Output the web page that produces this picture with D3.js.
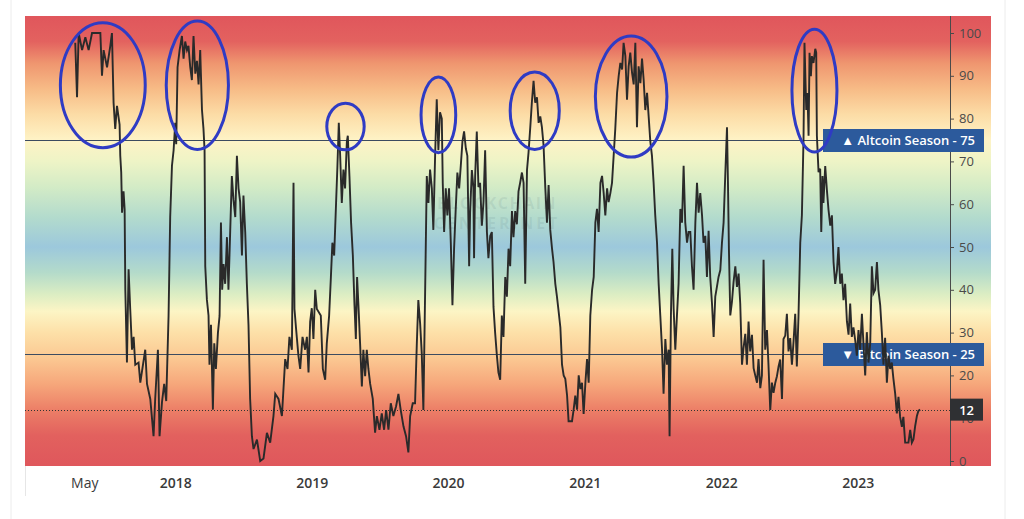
<!DOCTYPE html>
<html>
<head>
<meta charset="utf-8">
<script src="https://cdn.jsdelivr.net/npm/d3@7"></script>
<style>
  body { margin: 0; background: #fff; }
  svg { display: block; }
</style>
</head>
<body>
<svg id="chart" width="1024" height="519"></svg>
<script>
// dates are decimal years, values are the altcoin season index (0-100)
var dates = [
  2017.267, 2017.280, 2017.292, 2017.317, 2017.341, 2017.365, 2017.390, 2017.451, 2017.463, 2017.475,
  2017.500, 2017.524, 2017.536, 2017.548, 2017.560, 2017.573, 2017.592, 2017.597, 2017.604, 2017.610,
  2017.621, 2017.629, 2017.634, 2017.646, 2017.658, 2017.670, 2017.683, 2017.695, 2017.707, 2017.731,
  2017.744, 2017.780, 2017.793, 2017.817, 2017.841, 2017.853, 2017.873, 2017.885, 2017.903, 2017.919,
  2017.934, 2017.951, 2017.963, 2017.976, 2017.988, 2018.000, 2018.007, 2018.017, 2018.032, 2018.049,
  2018.061, 2018.073, 2018.086, 2018.097, 2018.110, 2018.122, 2018.134, 2018.147, 2018.159, 2018.171,
  2018.183, 2018.196, 2018.207, 2018.215, 2018.220, 2018.232, 2018.244, 2018.251, 2018.262, 2018.276,
  2018.286, 2018.298, 2018.313, 2018.325, 2018.335, 2018.344, 2018.354, 2018.366, 2018.379, 2018.390,
  2018.403, 2018.415, 2018.427, 2018.440, 2018.452, 2018.464, 2018.476, 2018.489, 2018.500, 2018.513,
  2018.525, 2018.537, 2018.549, 2018.562, 2018.574, 2018.599, 2018.623, 2018.647, 2018.672, 2018.696,
  2018.720, 2018.733, 2018.757, 2018.782, 2018.806, 2018.823, 2018.837, 2018.855, 2018.867, 2018.874,
  2018.886, 2018.903, 2018.916, 2018.933, 2018.952, 2018.965, 2018.977, 2018.989, 2019.001, 2019.013,
  2019.026, 2019.038, 2019.067, 2019.082, 2019.099, 2019.111, 2019.128, 2019.141, 2019.152, 2019.165,
  2019.179, 2019.189, 2019.199, 2019.209, 2019.221, 2019.233, 2019.245, 2019.258, 2019.265, 2019.277,
  2019.289, 2019.302, 2019.314, 2019.324, 2019.333, 2019.343, 2019.355, 2019.368, 2019.379, 2019.392,
  2019.404, 2019.416, 2019.429, 2019.448, 2019.465, 2019.478, 2019.497, 2019.514, 2019.531, 2019.546,
  2019.563, 2019.580, 2019.599, 2019.619, 2019.636, 2019.653, 2019.673, 2019.692, 2019.709, 2019.722,
  2019.741, 2019.758, 2019.771, 2019.782, 2019.795, 2019.807, 2019.819, 2019.832, 2019.844, 2019.856,
  2019.868, 2019.881, 2019.892, 2019.905, 2019.917, 2019.929, 2019.941, 2019.954, 2019.961, 2019.971,
  2019.983, 2019.995, 2020.007, 2020.020, 2020.032, 2020.044, 2020.056, 2020.068, 2020.081, 2020.093,
  2020.105, 2020.117, 2020.130, 2020.141, 2020.154, 2020.161, 2020.174, 2020.185, 2020.190, 2020.198,
  2020.210, 2020.222, 2020.234, 2020.247, 2020.259, 2020.271, 2020.284, 2020.295, 2020.308, 2020.320,
  2020.332, 2020.344, 2020.357, 2020.368, 2020.381, 2020.393, 2020.405, 2020.418, 2020.430, 2020.442,
  2020.454, 2020.467, 2020.478, 2020.491, 2020.503, 2020.515, 2020.527, 2020.540, 2020.552, 2020.564,
  2020.577, 2020.588, 2020.601, 2020.613, 2020.625, 2020.637, 2020.650, 2020.662, 2020.674, 2020.686,
  2020.698, 2020.711, 2020.723, 2020.735, 2020.747, 2020.760, 2020.771, 2020.784, 2020.796, 2020.808,
  2020.821, 2020.833, 2020.845, 2020.857, 2020.870, 2020.881, 2020.906, 2020.918, 2020.930, 2020.943,
  2020.955, 2020.967, 2020.979, 2020.991, 2021.004, 2021.016, 2021.028, 2021.040, 2021.053, 2021.065,
  2021.077, 2021.089, 2021.101, 2021.114, 2021.126, 2021.138, 2021.150, 2021.163, 2021.174, 2021.187,
  2021.199, 2021.211, 2021.223, 2021.236, 2021.248, 2021.260, 2021.273, 2021.284, 2021.297, 2021.309,
  2021.321, 2021.333, 2021.346, 2021.358, 2021.370, 2021.382, 2021.394, 2021.407, 2021.419, 2021.431,
  2021.443, 2021.456, 2021.467, 2021.480, 2021.492, 2021.504, 2021.516, 2021.529, 2021.541, 2021.553,
  2021.566, 2021.577, 2021.590, 2021.602, 2021.614, 2021.621, 2021.631, 2021.641, 2021.651, 2021.663,
  2021.675, 2021.687, 2021.700, 2021.712, 2021.724, 2021.736, 2021.749, 2021.760, 2021.773, 2021.785,
  2021.797, 2021.810, 2021.822, 2021.834, 2021.846, 2021.859, 2021.870, 2021.883, 2021.895, 2021.907,
  2021.919, 2021.932, 2021.944, 2021.956, 2021.968, 2021.980, 2021.993, 2022.005, 2022.017, 2022.029,
  2022.042, 2022.049, 2022.056, 2022.066, 2022.078, 2022.090, 2022.103, 2022.115, 2022.127, 2022.139,
  2022.152, 2022.163, 2022.176, 2022.188, 2022.200, 2022.212, 2022.225, 2022.237, 2022.249, 2022.262,
  2022.273, 2022.286, 2022.298, 2022.310, 2022.322, 2022.335, 2022.346, 2022.359, 2022.371, 2022.383,
  2022.396, 2022.408, 2022.420, 2022.432, 2022.445, 2022.456, 2022.469, 2022.481, 2022.493, 2022.505,
  2022.518, 2022.530, 2022.542, 2022.554, 2022.566, 2022.579, 2022.591, 2022.603, 2022.610, 2022.623,
  2022.632, 2022.640, 2022.647, 2022.657, 2022.664, 2022.676, 2022.689, 2022.696, 2022.701, 2022.713,
  2022.725, 2022.733, 2022.742, 2022.749, 2022.762, 2022.774, 2022.786, 2022.799, 2022.811, 2022.823,
  2022.835, 2022.848, 2022.859, 2022.872, 2022.884, 2022.896, 2022.908, 2022.921, 2022.933, 2022.945,
  2022.957, 2022.969, 2022.982, 2022.994, 2023.006, 2023.018, 2023.031, 2023.042, 2023.055, 2023.067,
  2023.079, 2023.092, 2023.104, 2023.116, 2023.128, 2023.141, 2023.152, 2023.165, 2023.177, 2023.189,
  2023.201, 2023.214, 2023.226, 2023.238, 2023.250, 2023.262, 2023.275, 2023.287, 2023.299, 2023.311,
  2023.324, 2023.335, 2023.348, 2023.372, 2023.385, 2023.397, 2023.409, 2023.421, 2023.434, 2023.445,
  2023.458
];
var values = [
  97.7, 85, 100, 96, 99, 96, 100, 100, 90, 96,
  92, 97, 100, 83.7, 77.6, 83, 78.6, 71.3, 67.4, 58,
  63, 58.8, 40, 23, 44.8, 35.5, 26, 29, 22.5, 23,
  18.3, 26, 18, 14.5, 5.8, 14.5, 26, 5.8, 13.8, 18,
  14, 33.9, 57, 69, 72.6, 79, 74, 92, 96, 99.3,
  94, 98, 96, 97, 92, 89, 99.3, 90.5, 93.5, 88,
  96, 82, 77.6, 72.6, 45.5, 37.7, 34, 22.5, 31.8, 12,
  27.5, 21.5, 30, 33.9, 55.7, 40, 46, 41.4, 52.3, 40,
  53.8, 66.6, 61, 57, 71.3, 63.7, 60.5, 48, 62, 53.5,
  41.4, 31.8, 14.5, 5.8, 2.8, 5, 0, 0.6, 6.6, 4.3,
  10.5, 15.7, 14.5, 10.5, 23.8, 21.5, 29, 26, 65, 35.5,
  30.8, 24.6, 21.5, 29, 26, 29, 20.7, 32.6, 35.7, 28.5,
  40, 35.5, 34, 21.5, 19, 27.5, 33.9, 43, 51, 48,
  60.3, 69, 79, 71.3, 60.3, 68.1, 63.7, 74.6, 76, 66.6,
  55.7, 48, 36.4, 28.5, 43, 36.4, 27.5, 17.4, 26, 19.8,
  26, 21.5, 18, 14.5, 6.6, 10.5, 7.3, 11.1, 7.3, 11.9,
  7.3, 13.5, 10.5, 12.8, 15.7, 11.9, 8.1, 5.8, 2, 10.5,
  13.5, 13.5, 27.5, 37.6, 32.2, 25.2, 11.9, 40, 66.6, 60.3,
  68.1, 63.7, 54, 71.3, 84.5, 72.6, 81.5, 80, 65, 53.5,
  63.7, 57.4, 63.7, 51, 36.4, 49.6, 58.9, 67.4, 63.7, 69,
  74.6, 77, 73, 71.3, 45.5, 58, 68, 64, 47.4, 66.6,
  77, 64, 65, 55, 60.5, 72.6, 53.5, 47.4, 52.6, 53.5,
  36, 30, 24.6, 20.7, 19, 34, 29, 43, 38.4, 49.6,
  45.5, 58.4, 52.3, 58.4, 55.3, 63, 65, 67.4, 65, 41.4,
  68, 72, 78, 84, 88.8, 83.7, 85, 79, 80.5, 78,
  73.8, 63.7, 55.7, 64.5, 54, 49.6, 46.5, 41.4, 38.4, 35,
  31.2, 22.5, 20, 19.2, 15.3, 9.3, 9.3, 12, 15.3, 12,
  20, 16.8, 18.3, 11, 18.3, 23.8, 18.3, 34, 40, 43,
  55.7, 58.9, 53.5, 65, 66.6, 62.6, 57.4, 63.7, 60.5, 62.6,
  65, 71.3, 77.6, 86, 90, 93, 91.5, 97.7, 94.6, 84.4,
  92.2, 95.4, 90.7, 88, 97.7, 78, 92.2, 88.3, 94, 89.1,
  82, 86, 80.8, 74.6, 71.3, 65, 57.4, 51, 41.4, 34,
  26, 15.7, 28.5, 22.5, 26, 5.8, 34, 49.6, 35.5, 26,
  33.9, 41.4, 58.9, 55.7, 69, 55.7, 51, 53.5, 53.5, 45.5,
  40, 55.7, 65, 58, 62.6, 57.4, 51, 52.6, 43, 53.8,
  43, 36.8, 29, 38.4, 40.7, 43, 44.6, 51, 55.7, 66.6,
  78, 65, 49.6, 34, 37.1, 41.8, 45.5, 40.7, 43.8, 36.8,
  22.5, 26.4, 29.7, 22.5, 32.6, 25.6, 29.5, 21.7, 20, 18.3,
  23.8, 17, 20, 47, 26, 30.6, 22.5, 11.9, 18.3, 15.9,
  18.3, 19.8, 22.1, 23.7, 14.5, 28.5, 29.3, 34.4, 25.6, 28.7,
  22.5, 28, 34.4, 22.1, 33.7, 51, 57.4, 75.4, 97.7, 82,
  86, 76, 95.4, 89.9, 94.6, 93, 96.3, 95.4, 76, 67.5,
  68.3, 53.5, 66.6, 60.3, 68.9, 63.4, 58.7, 55, 57.4, 46.5,
  41.4, 44.5, 50, 41.4, 43.8, 37.6, 41.4, 32.6, 29.5, 36.8,
  29, 31.2, 28.2, 24.6, 30.6, 26, 34.4, 27.5, 20, 30.1,
  23, 27.5, 45.5, 39.2, 40, 46.5, 40, 36.4, 30.1, 22.5,
  28.8, 18.3, 24.6, 21.5, 23, 19.2, 15.7, 11.1, 15, 10.3,
  8, 10.3, 4.3, 4.3, 7.3, 4.3, 5.1, 8.1, 10.5, 11.7,
  12
];

var yTicks = [0, 10, 20, 30, 40, 50, 60, 70, 80, 90, 100];
var xTickDates = [2017.333, 2018, 2019, 2020, 2021, 2022, 2023];
var xTickLabels = ["May", "2018", "2019", "2020", "2021", "2022", "2023"];
var levelValues = [75, 25];
var levelLabels = ["\u25B2 Altcoin Season - 75", "\u25BC Bitcoin Season - 25"];
var lastValue = 12;

// hand-drawn circles: [start year, end year, low value, high value]
var circleBoxes = [
  [2017.158, 2017.780, 73.2, 102.4],
  [2017.934, 2018.390, 72.8, 102.8],
  [2019.111, 2019.385, 72.7, 83.6],
  [2019.802, 2020.056, 72.0, 89.7],
  [2020.454, 2020.813, 72.8, 90.9],
  [2021.077, 2021.602, 71.0, 99.3],
  [2022.518, 2022.848, 72.2, 100.9]
];

// background bands (value -> colour)
var bandStops = [
  [104, "#e0565c"], [98, "#e3625f"], [93, "#ef956f"], [87, "#f7bb86"],
  [81, "#fcdca6"], [75, "#fef3c6"], [70, "#eef4c6"], [64, "#d3ebc6"],
  [57, "#b3dbcd"], [50, "#9cc8dc"], [44, "#b4dbca"], [39, "#dbedc3"],
  [35, "#fcf5c5"], [30, "#fde0a8"], [24, "#fbc892"], [18, "#f6a77b"],
  [12, "#ec7f67"], [6, "#e2615e"], [-2, "#df575c"]
];

function toDate(t) {
  var yr = Math.floor(t);
  var a = new Date(yr, 0, 1), b = new Date(yr + 1, 0, 1);
  return new Date(+a + (t - yr) * (b - a));
}

var data = dates.map(function (d, i) { return { date: toDate(d), value: values[i] }; });

var svg = d3.select("#chart");
var H = 519;
var plot = { left: 25, right: 950, top: 16, bottom: 466, bgRight: 991 };

var x = d3.scaleTime()
  .domain([new Date(2016, 10, 25), new Date(2023, 8, 5)])
  .range([plot.left, plot.right]);
var y = d3.scaleLinear().domain([0, 100]).range([461, 33]);

// page frame
svg.append("line").attr("x1", 11).attr("x2", 11).attr("y1", 0).attr("y2", H)
  .attr("stroke", "#ececec");
svg.append("line").attr("x1", 1005).attr("x2", 1005).attr("y1", 0).attr("y2", H)
  .attr("stroke", "#ececec");
svg.append("line").attr("x1", plot.left + 0.5).attr("x2", plot.left + 0.5)
  .attr("y1", plot.bottom).attr("y2", 496).attr("stroke", "#e6e6e6");

// gradient
var grad = svg.append("defs").append("linearGradient")
  .attr("id", "bands")
  .attr("gradientUnits", "userSpaceOnUse")
  .attr("x1", 0).attr("x2", 0)
  .attr("y1", plot.top).attr("y2", plot.bottom);
grad.selectAll("stop")
  .data(bandStops)
  .enter().append("stop")
  .attr("offset", function (d) { return Math.max(0, Math.min(1, (y(d[0]) - plot.top) / (plot.bottom - plot.top))); })
  .attr("stop-color", function (d) { return d[1]; });

svg.append("rect")
  .attr("x", plot.left).attr("y", plot.top)
  .attr("width", plot.bgRight - plot.left).attr("height", plot.bottom - plot.top)
  .attr("fill", "url(#bands)");

// watermark
var wm = svg.append("g")
  .attr("fill", "#5a7a80").attr("fill-opacity", 0.13)
  .attr("font-family", "'Open Sans', sans-serif").attr("font-weight", 700)
  .attr("font-size", 16).attr("text-anchor", "middle");
wm.append("text").attr("x", 497).attr("y", 209).attr("letter-spacing", 1.5).text("BLOCKCHAIN");
wm.append("text").attr("x", 497).attr("y", 229).attr("letter-spacing", 3).text("CENTER.NET");

// level lines
svg.selectAll(".level")
  .data(levelValues)
  .enter().append("line")
  .attr("class", "level")
  .attr("x1", plot.left).attr("x2", plot.right)
  .attr("y1", function (d) { return Math.round(y(d)) + 0.5; })
  .attr("y2", function (d) { return Math.round(y(d)) + 0.5; })
  .attr("stroke", "#3c4b60").attr("stroke-width", 1);

svg.append("line")
  .attr("x1", plot.left).attr("x2", plot.right)
  .attr("y1", Math.round(y(lastValue)) + 0.5).attr("y2", Math.round(y(lastValue)) + 0.5)
  .attr("stroke", "#333").attr("stroke-width", 1).attr("stroke-dasharray", "1,2");

// y axis on the right
var yAxis = svg.append("g")
  .attr("transform", "translate(" + plot.right + ",0)")
  .call(d3.axisRight(y).tickValues(yTicks).tickSize(4).tickPadding(5));
yAxis.select(".domain").attr("d", "M0.5," + plot.top + "V" + plot.bottom).attr("stroke", "#4a4a4a");
yAxis.selectAll(".tick line").attr("stroke", "#4a4a4a");
yAxis.selectAll(".tick text")
  .attr("fill", "#4a4a4a")
  .attr("font-family", "'Open Sans', sans-serif")
  .attr("font-size", 13);

// x axis labels
var xAxis = svg.append("g")
  .attr("transform", "translate(0," + plot.bottom + ")")
  .call(d3.axisBottom(x)
    .tickValues(xTickDates.map(toDate))
    .tickFormat(function (d, i) { return xTickLabels[i]; })
    .tickSize(0).tickPadding(12));
xAxis.select(".domain").remove();
xAxis.selectAll(".tick text")
  .attr("fill", "#3a3a3a")
  .attr("font-family", "'Open Sans', sans-serif")
  .attr("font-size", 14)
  .attr("font-weight", function (d, i) { return i === 0 ? 400 : 600; });

// level labels
var lab = svg.selectAll(".lvl-label")
  .data(levelValues)
  .enter().append("g")
  .attr("class", "lvl-label")
  .attr("transform", function (d) { return "translate(823," + (y(d) - 11) + ")"; });
lab.append("rect").attr("width", 161).attr("height", 23).attr("fill", "#2c5a9c");
lab.append("text")
  .attr("x", 152).attr("y", 16)
  .attr("text-anchor", "end")
  .attr("fill", "#fff")
  .attr("font-family", "'Open Sans', sans-serif")
  .attr("font-size", 13)
  .attr("font-weight", 600)
  .text(function (d, i) { return levelLabels[i]; });

// current value tag (sits over the 10 tick label, as in the original)
var last = svg.append("g").attr("transform", "translate(" + plot.right + "," + (y(lastValue) - 11) + ")");
last.append("rect").attr("width", 33).attr("height", 22).attr("fill", "#2f3033");
last.append("text").attr("x", 24).attr("y", 16).attr("text-anchor", "end")
  .attr("fill", "#fff").attr("font-family", "'Open Sans', sans-serif")
  .attr("font-size", 13).attr("font-weight", 600).text(lastValue);

// index line
var line = d3.line()
  .x(function (d) { return x(d.date); })
  .y(function (d) { return y(d.value); });
svg.append("path")
  .datum(data)
  .attr("d", line)
  .attr("fill", "none")
  .attr("stroke", "#2a2a2a")
  .attr("stroke-width", 1.9)
  .attr("stroke-linejoin", "miter");

// blue annotation circles
svg.selectAll(".ring")
  .data(circleBoxes)
  .enter().append("ellipse")
  .attr("class", "ring")
  .attr("cx", function (d) { return (x(toDate(d[0])) + x(toDate(d[1]))) / 2; })
  .attr("cy", function (d) { return (y(d[2]) + y(d[3])) / 2; })
  .attr("rx", function (d) { return (x(toDate(d[1])) - x(toDate(d[0]))) / 2; })
  .attr("ry", function (d) { return (y(d[2]) - y(d[3])) / 2; })
  .attr("fill", "none")
  .attr("stroke", "#2f3bc4")
  .attr("stroke-width", 3);
</script>
</body>
</html>
